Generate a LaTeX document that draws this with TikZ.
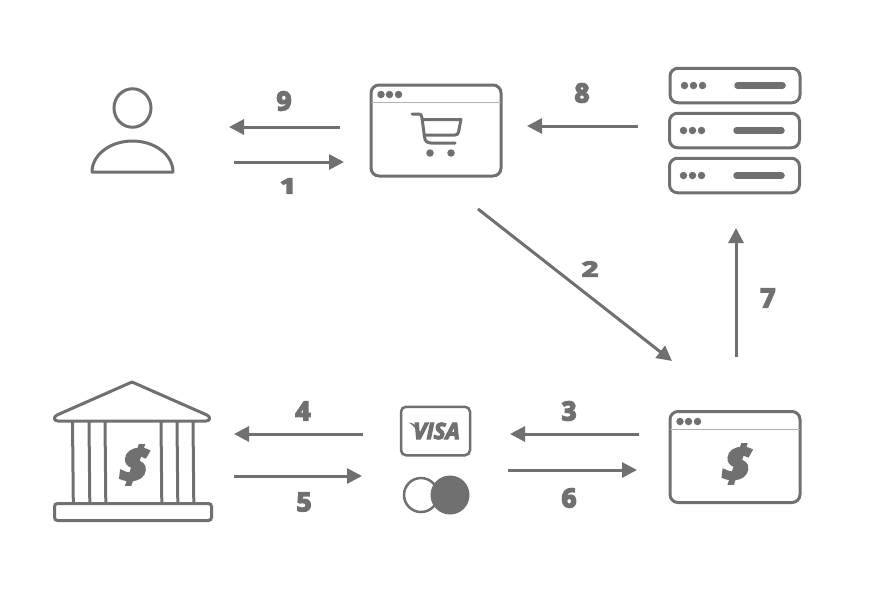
\documentclass[tikz,border=0pt]{standalone}
\usepackage{fontspec}
\setmainfont{Open Sans}
\usetikzlibrary{arrows.meta,shapes.geometric}
\definecolor{icongray}{RGB}{112,112,112}
\definecolor{rulegray}{RGB}{178,178,178}
\newcommand{\heavytext}[2]{\special{pdf:code q 2 Tr #1 w}#2\special{pdf:code Q}}
\tikzset{
    flow/.style={draw=icongray,line width=3pt,-{Triangle[length=15pt,width=15pt]}},
    icon/.style={draw=icongray,line width=3pt,line cap=round,line join=round},
    thinrule/.style={draw=rulegray,line width=1pt},
    winbox/.style={draw=icongray,line width=3pt,rounded corners=8pt,inner sep=0pt,minimum width=130pt,minimum height=91pt},
    rackbox/.style={draw=icongray,line width=3pt,rounded corners=8pt,inner sep=0pt,minimum width=130pt,minimum height=34.5pt},
    numlabel/.style={text=icongray,font=\bfseries\fontsize{26}{26}\selectfont,inner sep=0pt},
    smalllabel/.style={numlabel,xscale=1.1,yscale=0.8},
    moneylabel/.style={text=icongray,inner sep=0pt,xslant=0.12,font=\bfseries\itshape\fontsize{47}{47}\selectfont},
    dot/.style={circle,fill=icongray,inner sep=0pt,minimum size=7.5pt}
}
\begin{document}
\begin{tikzpicture}[x=1pt,y=-1pt]
        \useasboundingbox (0,0) rectangle (882,606);

        \node[draw=icongray,line width=3pt,ellipse,inner sep=0pt,minimum width=37pt,minimum height=38.5pt] (userhead) at (132.5,108) {};
        \draw[icon] (92,172) arc[start angle=180,end angle=360,x radius=40.5,y radius=31] -- cycle;

        \node[winbox] (shop) at (436,130.5) {};
        \draw[thinrule] (371,102.5) -- (501,102.5);
        \node[dot] (shopa) at (381,94.5) {};
        \node[dot] (shopb) at (389.5,94.5) {};
        \node[dot] (shopc) at (398.5,94.5) {};
        \draw[icon] (412,114) -- (419,114) .. controls (421,114) and (421.5,115) .. (422,118) -- (424.5,137) .. controls (425,141) and (427,143) .. (431,143) -- (455,143);
        \draw[icon] (422,119.5) -- (461,119.5) -- (458.5,132) .. controls (458,134) and (457,135) .. (455,135) -- (424,135);
        \node[dot] (wheela) at (430,153) {};
        \node[dot] (wheelb) at (451,153) {};

        \node[rackbox] (racka) at (735,85.5) {};
        \node[rackbox] (rackb) at (734.5,130.5) {};
        \node[rackbox] (rackc) at (734.5,175.5) {};
        \foreach \rowy/\rowx in {85.5/684.5,130.5/683.5,175.5/683.5}{
            \node[dot] (dota) at (\rowx,\rowy) {};
            \node[dot] (dotb) at (\rowx+9,\rowy) {};
            \node[dot] (dotc) at (\rowx+18,\rowy) {};
            \draw[icongray,line width=6.5pt,line cap=round] (\rowx+53,\rowy) -- (\rowx+98,\rowy);
        }

        \node[winbox] (payment) at (735,457) {};
        \draw[thinrule] (670,429.5) -- (800,429.5);
        \node[dot] (paya) at (680,421.5) {};
        \node[dot] (payb) at (688.5,421.5) {};
        \node[dot] (payc) at (697.5,421.5) {};
        \node[moneylabel] (paymoney) at (736.5,464) {\heavytext{3.2}{\$}};

        \draw[icon] (132,382) -- (57,415) .. controls (53,417) and (54,421) .. (58,421) -- (206,421) .. controls (210,421) and (211,417) .. (207,415) -- cycle;
        \foreach \colx in {72.5,89,105,161,177,193}{
            \draw[icon,line cap=butt] (\colx,421) -- (\colx+0.8,503);
        }
        \node[draw=icongray,line width=3pt,rounded corners=3pt,inner sep=0pt,minimum width=157pt,minimum height=17pt] (bankbase) at (133,512) {};
        \node[moneylabel] (bankmoney) at (134,465) {\heavytext{3.2}{\$}};

        \node[draw=icongray,line width=2.5pt,rounded corners=5pt,inner sep=0pt,minimum width=69pt,minimum height=48.5pt] (card) at (435.5,431) {};
        \node[text=icongray,inner sep=0pt,font=\bfseries\itshape\fontsize{22.5}{22.5}\selectfont] (visa) at (436.5,431) {\heavytext{1.1}{VISA}};
        \fill[icongray] (408.5,422.5) .. controls (414,423) and (418,426) .. (420,432) -- (418,434) .. controls (416,428) and (413,425) .. (408.5,422.5) -- cycle;
        \node[draw=icongray,line width=2.5pt,circle,inner sep=0pt,minimum size=34pt] (ringcard) at (421,495) {};
        \node[fill=icongray,circle,inner sep=0pt,minimum size=39pt] (solidcard) at (450,495) {};

        \coordinate (flowa) at (234,162);
        \coordinate (flowb) at (344,162);
        \coordinate (flowc) at (478,209);
        \coordinate (flowd) at (672,361);
        \coordinate (flowe) at (639,434);
        \coordinate (flowf) at (510,434);
        \coordinate (flowg) at (363,434);
        \coordinate (flowh) at (234,434);
        \coordinate (flowi) at (234,476);
        \coordinate (flowj) at (362,476);
        \coordinate (flowk) at (508,470);
        \coordinate (flowl) at (637,470);
        \coordinate (flowm) at (736,357);
        \coordinate (flown) at (736,228);
        \coordinate (flowo) at (638,126);
        \coordinate (flowp) at (527,126);
        \coordinate (flowq) at (340,127);
        \coordinate (flowr) at (229,127);

        \draw[flow] (flowa) -- (flowb);
        \draw[flow] (flowc) -- (flowd);
        \draw[flow] (flowe) -- (flowf);
        \draw[flow] (flowg) -- (flowh);
        \draw[flow] (flowi) -- (flowj);
        \draw[flow] (flowk) -- (flowl);
        \draw[flow] (flowm) -- (flown);
        \draw[flow] (flowo) -- (flowp);
        \draw[flow] (flowq) -- (flowr);

        \node[smalllabel] (stepone) at (288,186) {\heavytext{1.6}{1}};
        \node[smalllabel] (steptwo) at (590,269) {\heavytext{1.6}{2}};
        \node[numlabel] (stepthree) at (569,411) {\heavytext{1.6}{3}};
        \node[numlabel] (stepfour) at (303,411) {\heavytext{1.6}{4}};
        \node[numlabel] (stepfive) at (304,502) {\heavytext{1.6}{5}};
        \node[numlabel] (stepsix) at (569,498) {\heavytext{1.6}{6}};
        \node[numlabel] (stepseven) at (768,298) {\heavytext{1.6}{7}};
        \node[numlabel] (stepeight) at (582,93) {\heavytext{1.6}{8}};
        \node[numlabel] (stepnine) at (284,101) {\heavytext{1.6}{9}};
\end{tikzpicture}
\end{document}
